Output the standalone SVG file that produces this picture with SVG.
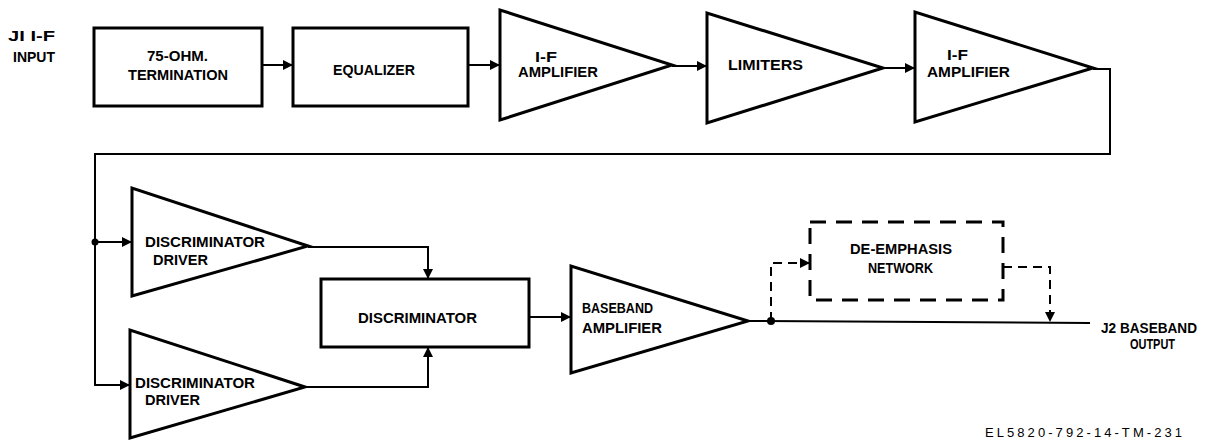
<svg xmlns="http://www.w3.org/2000/svg" width="1207" height="440" viewBox="0 0 1207 440">
<defs>
<style>
.blk{fill:#fff;stroke:#000;stroke-width:3;stroke-linejoin:miter}
.dash{fill:none;stroke:#000;stroke-width:3;stroke-dasharray:16 10}
.ln{fill:none;stroke:#000;stroke-width:2}
.dl{fill:none;stroke:#000;stroke-width:2;stroke-dasharray:9 6}
text{font-family:"Liberation Sans Narrow","Liberation Sans",Arial,sans-serif;font-weight:bold;font-size:14px;fill:#000}
.sm{font-size:13px;font-weight:normal}
</style>
<marker id="ah" viewBox="0 0 10 10" refX="10" refY="5" markerWidth="10" markerHeight="10" markerUnits="userSpaceOnUse" orient="auto">
<path d="M0,0 L10,5 L0,10 Z" fill="#000"/>
</marker>
</defs>
<rect width="1207" height="440" fill="#fff"/>

<g id="connectors">
<path class="ln" d="M262,65 H293" marker-end="url(#ah)"/>
<path class="ln" d="M468,65 H500" marker-end="url(#ah)"/>
<path class="ln" d="M672,66 H707" marker-end="url(#ah)"/>
<path class="ln" d="M883,68 H915" marker-end="url(#ah)"/>
<path class="ln" d="M1093,69 H1110 V154 H95 V385 H130" marker-end="url(#ah)"/>
<path class="ln" d="M95,242 H132" marker-end="url(#ah)"/>
<circle cx="95" cy="242" r="3.5" fill="#000"/>
<path class="ln" d="M308,247 H428 V279" marker-end="url(#ah)"/>
<path class="ln" d="M305,387 H428 V347" marker-end="url(#ah)"/>
<path class="ln" d="M529,317 H571" marker-end="url(#ah)"/>
<path class="ln" d="M748,321 L1090,323"/>
<circle cx="771" cy="321" r="4" fill="#000"/>
<path class="dl" d="M771,321 V263 H810" marker-end="url(#ah)"/>
<path class="dl" d="M1003,267 H1050 V322" marker-end="url(#ah)"/>
</g>

<g id="input-label">
<text x="8" y="41" textLength="47" lengthAdjust="spacingAndGlyphs">JI I-F</text>
<text x="13" y="62" textLength="42" lengthAdjust="spacingAndGlyphs">INPUT</text>
</g>

<g id="termination">
<rect class="blk" x="94" y="28" width="168" height="78"/>
<text x="147" y="61" textLength="61" lengthAdjust="spacingAndGlyphs">75-OHM.</text>
<text x="128" y="80" textLength="100" lengthAdjust="spacingAndGlyphs">TERMINATION</text>
</g>

<g id="equalizer">
<rect class="blk" x="293" y="28" width="175" height="78"/>
<text x="333" y="75" textLength="82" lengthAdjust="spacingAndGlyphs">EQUALIZER</text>
</g>

<g id="if-amp-1">
<polygon class="blk" points="500,10 500,120 672,65"/>
<text x="535" y="62" textLength="22" lengthAdjust="spacingAndGlyphs">I-F</text>
<text x="518" y="77" textLength="80" lengthAdjust="spacingAndGlyphs">AMPLIFIER</text>
</g>

<g id="limiters">
<polygon class="blk" points="707,13 707,123 883,68"/>
<text x="728" y="70" textLength="75" lengthAdjust="spacingAndGlyphs">LIMITERS</text>
</g>

<g id="if-amp-2">
<polygon class="blk" points="915,12 915,122 1093,68"/>
<text x="947" y="60" textLength="21" lengthAdjust="spacingAndGlyphs">I-F</text>
<text x="927" y="77" textLength="83" lengthAdjust="spacingAndGlyphs">AMPLIFIER</text>
</g>

<g id="disc-driver-1">
<polygon class="blk" points="132,188 132,296 308,246"/>
<text x="145" y="247" textLength="120" lengthAdjust="spacingAndGlyphs">DISCRIMINATOR</text>
<text x="153" y="265" textLength="55" lengthAdjust="spacingAndGlyphs">DRIVER</text>
</g>

<g id="disc-driver-2">
<polygon class="blk" points="130,330 130,438 305,387"/>
<text x="135" y="388" textLength="120" lengthAdjust="spacingAndGlyphs">DISCRIMINATOR</text>
<text x="145" y="405" textLength="55" lengthAdjust="spacingAndGlyphs">DRIVER</text>
</g>

<g id="discriminator">
<rect class="blk" x="321" y="279" width="208" height="68"/>
<text x="358" y="323" textLength="119" lengthAdjust="spacingAndGlyphs">DISCRIMINATOR</text>
</g>

<g id="baseband-amp">
<polygon class="blk" points="571,266 571,373 748,321"/>
<text x="582" y="313" textLength="71" lengthAdjust="spacingAndGlyphs">BASEBAND</text>
<text x="582" y="333" textLength="80" lengthAdjust="spacingAndGlyphs">AMPLIFIER</text>
</g>

<g id="de-emphasis">
<rect class="dash" x="810" y="222" width="193" height="78"/>
<text x="850" y="254" textLength="102" lengthAdjust="spacingAndGlyphs">DE-EMPHASIS</text>
<text x="868" y="273" textLength="65" lengthAdjust="spacingAndGlyphs">NETWORK</text>
</g>

<g id="output-label">
<text x="1101" y="333" textLength="96" lengthAdjust="spacingAndGlyphs">J2 BASEBAND</text>
<text x="1130" y="349" textLength="45" lengthAdjust="spacingAndGlyphs">OUTPUT</text>
</g>

<g id="figure-id">
<text class="sm" x="985" y="437" textLength="197" lengthAdjust="spacing">EL5820-792-14-TM-231</text>
</g>
</svg>
